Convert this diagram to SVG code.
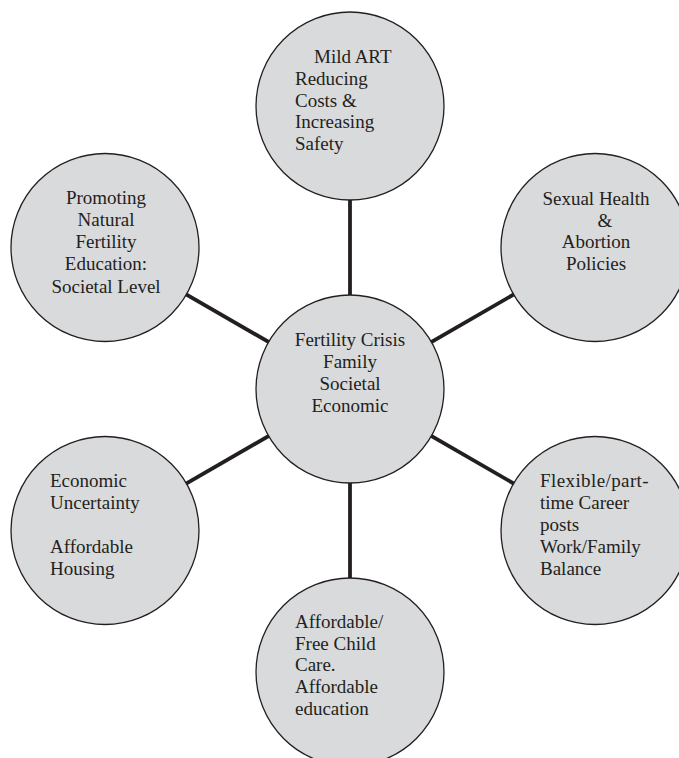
<svg xmlns="http://www.w3.org/2000/svg" width="679" height="758" viewBox="0 0 679 758">
<style>
.bg{fill:#ffffff}
.node circle{fill:#d9dadc;stroke:#231f20;stroke-width:1.3}
.conn line{stroke:#231f20;stroke-width:3.8}
text{font-family:"Liberation Serif","Times New Roman",serif;font-size:19px;fill:#231f20}
.c{text-anchor:middle}
</style>
<rect class="bg" x="0" y="0" width="679" height="758"/>
<g id="connectors" class="conn">
<line x1="350" y1="389" x2="350" y2="106"/>
<line x1="350" y1="389" x2="595" y2="247.5"/>
<line x1="350" y1="389" x2="595" y2="530.5"/>
<line x1="350" y1="389" x2="350" y2="672"/>
<line x1="350" y1="389" x2="105" y2="530.5"/>
<line x1="350" y1="389" x2="105" y2="247.5"/>
</g>
<g id="node-top" class="node">
<circle cx="350" cy="106" r="94"/>
<text x="314" y="63">Mild ART</text>
<text x="295" y="85">Reducing</text>
<text x="295" y="107">Costs &amp;</text>
<text x="295" y="128">Increasing</text>
<text x="295" y="150">Safety</text>
</g>
<g id="node-topright" class="node">
<circle cx="595" cy="247.5" r="94"/>
<text class="c" x="596" y="205">Sexual Health</text>
<text class="c" x="605" y="227">&amp;</text>
<text class="c" x="596" y="248">Abortion</text>
<text class="c" x="596" y="270">Policies</text>
</g>
<g id="node-bottomright" class="node">
<circle cx="595" cy="530.5" r="94"/>
<text x="540" y="487" letter-spacing="0.4">Flexible/part-</text>
<text x="540" y="509">time Career</text>
<text x="540" y="531">posts</text>
<text x="540" y="553">Work/Family</text>
<text x="540" y="575">Balance</text>
</g>
<g id="node-bottom" class="node">
<circle cx="350" cy="672" r="94"/>
<text x="295" y="628">Affordable/</text>
<text x="295" y="650">Free Child</text>
<text x="295" y="671">Care.</text>
<text x="295" y="693">Affordable</text>
<text x="295" y="715">education</text>
</g>
<g id="node-bottomleft" class="node">
<circle cx="105" cy="530.5" r="94"/>
<text x="50" y="487">Economic</text>
<text x="50" y="509">Uncertainty</text>
<text x="50" y="553">Affordable</text>
<text x="50" y="575">Housing</text>
</g>
<g id="node-topleft" class="node">
<circle cx="105" cy="247.5" r="94"/>
<text class="c" x="106" y="204">Promoting</text>
<text class="c" x="106" y="226">Natural</text>
<text class="c" x="106" y="248">Fertility</text>
<text class="c" x="106" y="270">Education:</text>
<text class="c" x="106" y="293">Societal Level</text>
</g>
<g id="node-center" class="node">
<circle cx="350" cy="389" r="94"/>
<text class="c" x="350" y="346">Fertility Crisis</text>
<text class="c" x="350" y="368">Family</text>
<text class="c" x="350" y="390">Societal</text>
<text class="c" x="350" y="412">Economic</text>
</g>
</svg>
